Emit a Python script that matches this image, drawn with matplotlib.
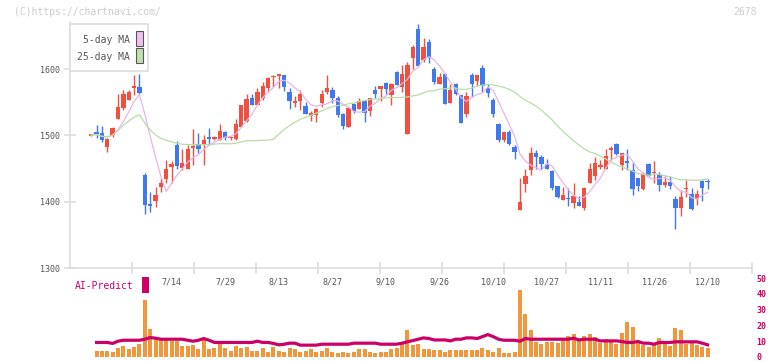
import matplotlib
matplotlib.use("Agg")
import matplotlib.pyplot as plt
import matplotlib.transforms as mtransforms
from matplotlib.patches import Rectangle
import numpy as np
import pandas as pd

# daily candles, 6/23 .. 12/10
opens = [1499.5, 1505, 1503, 1483, 1500, 1525, 1541, 1554, 1571, 1573,
         1440, 1397, 1401, 1422, 1434, 1453, 1485, 1451, 1450, 1481,
         1487, 1487, 1498, 1495, 1493, 1505, 1496, 1494, 1513, 1521,
         1556, 1545, 1556, 1572, 1588, 1590, 1591, 1566, 1548, 1552,
         1544, 1529, 1531, 1548, 1566, 1568, 1556, 1532, 1512, 1547,
         1539, 1552, 1537, 1569, 1570, 1579, 1561, 1596, 1573, 1502,
         1617, 1660, 1613, 1640, 1600, 1578, 1592, 1549, 1577, 1561,
         1532, 1591, 1582, 1601, 1571, 1554, 1517, 1493, 1505, 1483,
         1388, 1427, 1447, 1474, 1468, 1457, 1446, 1424, 1402, 1406,
         1398, 1400, 1390, 1428, 1439, 1453, 1450, 1478, 1487, 1455,
         1461, 1448, 1436, 1419, 1457, 1443, 1440, 1425, 1430, 1404,
         1391, 1419, 1412, 1404, 1431, 1430]
highs = [1501, 1516, 1514, 1496, 1512, 1562, 1569, 1569, 1591, 1593,
         1443, 1414, 1422, 1436, 1463, 1461, 1491, 1480, 1486, 1510,
         1504, 1500, 1511, 1499, 1517, 1506, 1499, 1524, 1546, 1562,
         1563, 1572, 1581, 1588, 1591, 1592, 1591, 1572, 1559, 1569,
         1551, 1536, 1541, 1568, 1591, 1573, 1559, 1533, 1542, 1548,
         1556, 1554, 1557, 1574, 1574, 1581, 1579, 1597, 1606, 1611,
         1636, 1668, 1646, 1645, 1603, 1594, 1594, 1578, 1579, 1561,
         1566, 1594, 1591, 1606, 1578, 1556, 1519, 1505, 1508, 1485,
         1435, 1450, 1483, 1478, 1470, 1464, 1448, 1424, 1422, 1420,
         1428, 1408, 1422, 1458, 1467, 1463, 1479, 1484, 1489, 1474,
         1479, 1460, 1436, 1445, 1459, 1461, 1444, 1439, 1438, 1408,
         1418, 1433, 1420, 1418, 1433, 1434]
lows = [1499, 1496, 1490, 1475, 1498, 1525, 1538, 1553, 1561, 1562,
        1382, 1385, 1392, 1414, 1428, 1428, 1450, 1448, 1450, 1455,
        1473, 1455, 1485, 1493, 1493, 1493, 1493, 1493, 1513, 1520,
        1545, 1545, 1553, 1566, 1573, 1572, 1567, 1540, 1543, 1538,
        1532, 1522, 1520, 1543, 1563, 1548, 1528, 1510, 1512, 1533,
        1539, 1520, 1529, 1557, 1552, 1563, 1546, 1576, 1566, 1502,
        1600, 1604, 1611, 1609, 1578, 1578, 1547, 1548, 1561, 1518,
        1527, 1558, 1574, 1566, 1558, 1528, 1490, 1490, 1485, 1464,
        1387, 1415, 1440, 1449, 1450, 1449, 1418, 1406, 1402, 1394,
        1390, 1393, 1387, 1428, 1432, 1449, 1449, 1463, 1470, 1447,
        1447, 1410, 1416, 1418, 1438, 1428, 1416, 1422, 1419, 1359,
        1379, 1407, 1387, 1395, 1401, 1419]
closes = [1500.5, 1502, 1493, 1495, 1511, 1542, 1562, 1566, 1574, 1564,
          1395, 1394, 1410, 1428, 1450, 1457, 1454, 1459, 1479, 1483,
          1479, 1493, 1495, 1497, 1506, 1496, 1497, 1517, 1545, 1555,
          1545, 1565, 1574, 1587, 1590, 1591, 1573, 1552, 1552, 1562,
          1532, 1533, 1540, 1562, 1571, 1556, 1531, 1514, 1541, 1537,
          1552, 1534, 1556, 1562, 1574, 1570, 1578, 1576, 1592, 1606,
          1633, 1605, 1633, 1616, 1581, 1588, 1547, 1569, 1562, 1519,
          1559, 1577, 1591, 1574, 1564, 1532, 1493, 1505, 1487, 1475,
          1400, 1439, 1474, 1468, 1457, 1450, 1420, 1407, 1410, 1404,
          1408, 1393, 1420, 1450, 1459, 1455, 1469, 1481, 1472, 1474,
          1459, 1419, 1423, 1442, 1439, 1445, 1425, 1430, 1423, 1391,
          1407, 1421, 1389, 1411, 1421, 1429]

date_labels = ["7/14", "7/29", "8/13", "8/27", "9/10", "9/26",
               "10/10", "10/27", "11/11", "11/26", "12/10"]
date_index = [15, 25, 35, 45, 55, 65, 75, 85, 95, 105, 115]

# AI-Predict, starts at the second day
ai_bars = [4.0, 4.0, 4.0, 3.3, 5.8, 7.1, 5.2, 6.5, 8.3, 35.8,
           17.7, 11.9, 11.9, 11.9, 10.2, 10.2, 6.9, 6.7, 7.7, 5.2,
           11.2, 5.2, 5.8, 9.4, 5.8, 4.0, 6.7, 5.8, 6.5, 4.0,
           4.0, 5.8, 3.3, 6.5, 4.0, 3.3, 5.8, 5.2, 3.3, 4.0,
           5.2, 3.3, 4.0, 5.8, 3.3, 2.7, 3.3, 2.7, 3.3, 5.2,
           5.2, 3.3, 2.7, 3.3, 3.0, 5.0, 6.0, 8.3, 16.9, 7.5,
           8.3, 5.2, 5.2, 4.4, 4.4, 3.0, 4.4, 4.4, 4.4, 4.4,
           4.4, 4.4, 5.6, 4.4, 3.0, 5.6, 2.5, 2.5, 3.0, 42.5,
           26.9, 17.1, 9.4, 8.3, 9.8, 9.8, 8.75, 11.9, 13.5, 14.3,
           11.3, 13.5, 14.7, 12.9, 8.75, 11.2, 10.2, 8.3, 15.5, 22.3,
           19.0, 8.75, 7.5, 6.5, 8.3, 11.9, 9.8, 6.9, 18.1, 17.3,
           8.3, 8.75, 7.5, 6.5, 5.8]
ai_line = [9.2, 9.2, 9.2, 8.6, 10.0, 10.6, 10.6, 10.6, 10.6, 11.25,
           12.3, 11.9, 11.25, 11.25, 11.25, 11.25, 11.25, 10.6, 10.0, 10.6,
           11.7, 10.6, 9.2, 9.2, 9.2, 9.2, 9.2, 9.2, 9.2, 9.2,
           10.0, 9.2, 9.2, 8.6, 7.7, 8.1, 8.75, 8.75, 7.5, 7.5,
           7.5, 7.5, 8.1, 8.1, 8.1, 8.1, 8.1, 8.1, 8.75, 8.75,
           8.75, 8.75, 8.75, 8.1, 8.1, 8.1, 8.1, 8.75, 9.6, 10.4,
           11.25, 12.1, 11.7, 10.8, 10.8, 10.8, 10.2, 11.25, 11.25, 12.1,
           12.1, 11.7, 12.9, 14.2, 12.9, 11.25, 10.6, 10.6, 10.6, 10.0,
           11.7, 11.25, 11.25, 11.25, 11.25, 11.25, 11.25, 11.25, 11.25, 11.9,
           10.8, 11.25, 11.25, 11.25, 10.2, 10.2, 10.2, 10.2, 9.8, 9.2,
           9.2, 9.8, 8.75, 8.75, 8.1, 9.2, 9.2, 9.2, 9.6, 9.6,
           9.6, 9.6, 9.6, 8.75, 7.7]

W, H = 772, 361
UP = "#f05040"
DOWN = "#4078f0"
GRID = "#dddddd"
TXT = "#555555"
MAG = "#cc0066"
MONO = "DejaVu Sans Mono"

# pixel layout of the reference
X0, DX = 91.2, 5.36
PX_PER_100 = 66.33


def box(l, t, r, b):
    return [l / W, 1 - b / H, (r - l) / W, (b - t) / H]


def idx_of(px):
    return (px - X0) / DX


fig = plt.figure(figsize=(W / 100, H / 100), dpi=100)

# ---- AI-Predict panel (added first so the price panel's texts stay on top)
ax2 = fig.add_axes(box(70, 278, 752, 357))
ax2.patch.set_visible(False)
ax2.set_xlim(idx_of(70), idx_of(752))
ax2.set_ylim(0, 50)
xb = np.arange(1, len(ai_bars) + 1)
ax2.bar(xb, ai_bars, width=0.75, color="#f0963c", lw=0, zorder=2)
ax2.plot(xb, ai_line, color=MAG, lw=2.3, zorder=3)
for sp in ax2.spines.values():
    sp.set_visible(False)
ax2.set_xticks([])
ax2.yaxis.tick_right()
ax2.set_yticks([0, 10, 20, 30, 40, 50])
ax2.tick_params(axis="y", length=0, pad=3, labelsize=6, labelcolor=MAG)
for t in ax2.get_yticklabels():
    t.set_family(MONO)
    t.set_fontweight("bold")

fig.text(75 / W, 1 - 286 / H, "AI-Predict", ha="left", va="center",
         fontsize=7, color=MAG, family=MONO)
fig.patches.append(Rectangle((142 / W, 1 - 293 / H), 7 / W, 16 / H,
                             transform=fig.transFigure, facecolor=MAG,
                             lw=0))

# ---- price panel
top_px, bot_px = 22, 268
ax = fig.add_axes(box(70, top_px, 752, bot_px))
ax.patch.set_visible(False)
ax.set_xlim(idx_of(70), idx_of(752))
ax.set_ylim(1300, 1600 + (69 - top_px) * 100 / PX_PER_100)

o = np.array(opens)
c = np.array(closes)
hi = np.array(highs)
lo = np.array(lows)
x = np.arange(len(c))
col = np.where(c >= o, UP, DOWN)

ax.vlines(x, lo, hi, colors=col, lw=1.0, zorder=2, clip_on=False)
body_lo = np.minimum(o, c)
body_h = np.maximum(np.abs(c - o), 2.2)
ax.bar(x, body_h, bottom=body_lo, width=0.8, color=col, lw=0, zorder=3,
       clip_on=False)

s = pd.Series(c)
ma5 = s.rolling(5, min_periods=1).mean()
ma25 = s.rolling(25, min_periods=1).mean()
ax.plot(x, ma5, color="#e8b4e8", lw=0.9, zorder=4)
ax.plot(x, ma25, color="#b8dca8", lw=0.9, zorder=4)

for side in ["top", "right"]:
    ax.spines[side].set_visible(False)
for side in ["left", "bottom"]:
    ax.spines[side].set_color(GRID)
    ax.spines[side].set_linewidth(1.2)

ax.set_yticks([1300, 1400, 1500, 1600])
ax.tick_params(axis="y", direction="inout", length=8, width=1.2, color=GRID,
               labelsize=6, labelcolor=TXT, pad=3)
for t in ax.get_yticklabels():
    t.set_family(MONO)
ax.set_xticks([idx_of(70 + 62 * k) for k in range(1, 12)])
ax.set_xticklabels([])
ax.tick_params(axis="x", direction="inout", length=9, width=1.2, color=GRID)

# date labels between the panels
trans = mtransforms.blended_transform_factory(ax.transData, fig.transFigure)
for lab, i in zip(date_labels, date_index):
    ax.text(i, 1 - 282 / H, lab, transform=trans, ha="center", va="center",
            fontsize=6, color=TXT, family=MONO, clip_on=False)

# legend box
fig.patches.append(Rectangle((70 / W, 1 - 71 / H), 78 / W, 47 / H,
                             transform=fig.transFigure, facecolor="white",
                             edgecolor=GRID, lw=1.2, zorder=10))
fig.patches.append(Rectangle((136 / W, 1 - 46 / H), 7 / W, 15 / H,
                             transform=fig.transFigure, facecolor="#f0c0f0",
                             edgecolor="#555555", lw=0.8, zorder=11))
fig.patches.append(Rectangle((136 / W, 1 - 63 / H), 7 / W, 15 / H,
                             transform=fig.transFigure, facecolor="#c0e0b0",
                             edgecolor="#555555", lw=0.8, zorder=11))
fig.text(130 / W, 1 - 40 / H, "5-day MA", ha="right", va="center",
         fontsize=7, color=TXT, family=MONO, zorder=12)
fig.text(130 / W, 1 - 57 / H, "25-day MA", ha="right", va="center",
         fontsize=7, color=TXT, family=MONO, zorder=12)

# watermark and code
fig.text(14 / W, 1 - 12 / H, "(C)https://chartnavi.com/", ha="left",
         va="center", fontsize=7, color="#cccccc", family=MONO)
fig.text(757 / W, 1 - 12 / H, "2678", ha="right", va="center",
         fontsize=7, color="#cccccc", family=MONO)

fig.savefig("out.png", dpi=100)
